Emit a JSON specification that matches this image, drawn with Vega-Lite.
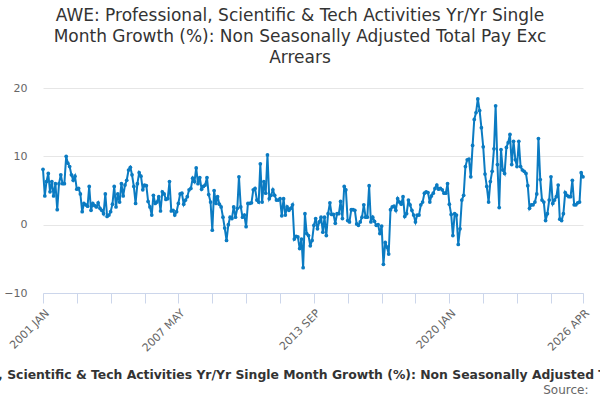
{
  "$schema": "https://vega.github.io/schema/vega-lite/v6.json",
  "autosize": {"type": "none"},
  "width": 540,
  "height": 205,
  "padding": {"left": 43, "top": 88, "right": 17, "bottom": 107},
  "title": {
    "text": ["AWE: Professional, Scientific & Tech Activities Yr/Yr Single", "Month Growth (%): Non Seasonally Adjusted Total Pay Exc", "Arrears"],
    "anchor": "middle",
    "frame": "group",
    "dx": -13,
    "offset": 15,
    "font": "DejaVu Sans",
    "fontSize": 17,
    "fontWeight": "normal",
    "color": "#333333",
    "lineHeight": 21
  },
  "data": {
    "values": [
      {"month": "2001-01", "value": 8.1}, {"month": "2001-02", "value": 4.2}, {"month": "2001-03", "value": 6.3}, {"month": "2001-04", "value": 7.5}, {"month": "2001-05", "value": 4.8}, {"month": "2001-06", "value": 6.3}, {"month": "2001-07", "value": 4.2}, {"month": "2001-08", "value": 6.0}, {"month": "2001-09", "value": 2.2}, {"month": "2001-10", "value": 6.0}, {"month": "2001-11", "value": 7.3}, {"month": "2001-12", "value": 6.0},
      {"month": "2002-01", "value": 6.0}, {"month": "2002-02", "value": 10.0}, {"month": "2002-03", "value": 9.0}, {"month": "2002-04", "value": 8.5}, {"month": "2002-05", "value": 7.3}, {"month": "2002-06", "value": 6.5}, {"month": "2002-07", "value": 7.1}, {"month": "2002-08", "value": 5.2}, {"month": "2002-09", "value": 5.3}, {"month": "2002-10", "value": 4.5}, {"month": "2002-11", "value": 1.9}, {"month": "2002-12", "value": 3.1},
      {"month": "2003-01", "value": 2.9}, {"month": "2003-02", "value": 2.7}, {"month": "2003-03", "value": 5.6}, {"month": "2003-04", "value": 2.1}, {"month": "2003-05", "value": 3.1}, {"month": "2003-06", "value": 2.8}, {"month": "2003-07", "value": 2.6}, {"month": "2003-08", "value": 3.2}, {"month": "2003-09", "value": 2.4}, {"month": "2003-10", "value": 2.1}, {"month": "2003-11", "value": 1.6}, {"month": "2003-12", "value": 4.5},
      {"month": "2004-01", "value": 1.2}, {"month": "2004-02", "value": 1.4}, {"month": "2004-03", "value": 1.9}, {"month": "2004-04", "value": 3.0}, {"month": "2004-05", "value": 5.6}, {"month": "2004-06", "value": 2.6}, {"month": "2004-07", "value": 4.5}, {"month": "2004-08", "value": 3.3}, {"month": "2004-09", "value": 6.0}, {"month": "2004-10", "value": 4.2}, {"month": "2004-11", "value": 5.8}, {"month": "2004-12", "value": 6.5},
      {"month": "2005-01", "value": 8.0}, {"month": "2005-02", "value": 8.4}, {"month": "2005-03", "value": 7.3}, {"month": "2005-04", "value": 5.6}, {"month": "2005-05", "value": 3.1}, {"month": "2005-06", "value": 6.0}, {"month": "2005-07", "value": 7.6}, {"month": "2005-08", "value": 7.1}, {"month": "2005-09", "value": 5.1}, {"month": "2005-10", "value": 5.8}, {"month": "2005-11", "value": 5.7}, {"month": "2005-12", "value": 3.4},
      {"month": "2006-01", "value": 2.6}, {"month": "2006-02", "value": 1.4}, {"month": "2006-03", "value": 4.3}, {"month": "2006-04", "value": 3.1}, {"month": "2006-05", "value": 3.3}, {"month": "2006-06", "value": 4.1}, {"month": "2006-07", "value": 2.0}, {"month": "2006-08", "value": 4.8}, {"month": "2006-09", "value": 4.5}, {"month": "2006-10", "value": 3.7}, {"month": "2006-11", "value": 3.8}, {"month": "2006-12", "value": 6.3},
      {"month": "2007-01", "value": 2.0}, {"month": "2007-02", "value": 2.1}, {"month": "2007-03", "value": 1.4}, {"month": "2007-04", "value": 1.9}, {"month": "2007-05", "value": 3.1}, {"month": "2007-06", "value": 4.5}, {"month": "2007-07", "value": 4.6}, {"month": "2007-08", "value": 3.0}, {"month": "2007-09", "value": 3.6}, {"month": "2007-10", "value": 4.1}, {"month": "2007-11", "value": 5.1}, {"month": "2007-12", "value": 5.3},
      {"month": "2008-01", "value": 6.8}, {"month": "2008-02", "value": 6.3}, {"month": "2008-03", "value": 8.3}, {"month": "2008-04", "value": 6.0}, {"month": "2008-05", "value": 6.9}, {"month": "2008-06", "value": 5.2}, {"month": "2008-07", "value": 5.6}, {"month": "2008-08", "value": 5.8}, {"month": "2008-09", "value": 6.9}, {"month": "2008-10", "value": 4.4}, {"month": "2008-11", "value": 3.3}, {"month": "2008-12", "value": -0.8},
      {"month": "2009-01", "value": 5.0}, {"month": "2009-02", "value": 3.1}, {"month": "2009-03", "value": 4.1}, {"month": "2009-04", "value": 3.0}, {"month": "2009-05", "value": 2.6}, {"month": "2009-06", "value": 1.1}, {"month": "2009-07", "value": -0.5}, {"month": "2009-08", "value": -2.3}, {"month": "2009-09", "value": 0.0}, {"month": "2009-10", "value": 1.1}, {"month": "2009-11", "value": 0.9}, {"month": "2009-12", "value": 2.6},
      {"month": "2010-01", "value": 1.1}, {"month": "2010-02", "value": 2.4}, {"month": "2010-03", "value": 7.0}, {"month": "2010-04", "value": 2.6}, {"month": "2010-05", "value": 1.1}, {"month": "2010-06", "value": 1.4}, {"month": "2010-07", "value": -0.3}, {"month": "2010-08", "value": 3.1}, {"month": "2010-09", "value": 3.1}, {"month": "2010-10", "value": 3.2}, {"month": "2010-11", "value": 5.1}, {"month": "2010-12", "value": 5.3},
      {"month": "2011-01", "value": 3.6}, {"month": "2011-02", "value": 3.3}, {"month": "2011-03", "value": 8.9}, {"month": "2011-04", "value": 3.3}, {"month": "2011-05", "value": 6.3}, {"month": "2011-06", "value": 4.6}, {"month": "2011-07", "value": 10.2}, {"month": "2011-08", "value": 3.8}, {"month": "2011-09", "value": 4.3}, {"month": "2011-10", "value": 5.1}, {"month": "2011-11", "value": 4.3}, {"month": "2011-12", "value": 3.6},
      {"month": "2012-01", "value": 3.6}, {"month": "2012-02", "value": 3.8}, {"month": "2012-03", "value": 1.3}, {"month": "2012-04", "value": 3.8}, {"month": "2012-05", "value": 1.4}, {"month": "2012-06", "value": 2.6}, {"month": "2012-07", "value": 2.1}, {"month": "2012-08", "value": 2.4}, {"month": "2012-09", "value": 2.9}, {"month": "2012-10", "value": -2.1}, {"month": "2012-11", "value": -1.7}, {"month": "2012-12", "value": -1.8},
      {"month": "2013-01", "value": -3.5}, {"month": "2013-02", "value": -2.1}, {"month": "2013-03", "value": -6.3}, {"month": "2013-04", "value": 1.6}, {"month": "2013-05", "value": -1.3}, {"month": "2013-06", "value": -1.6}, {"month": "2013-07", "value": -3.1}, {"month": "2013-08", "value": -2.3}, {"month": "2013-09", "value": -0.1}, {"month": "2013-10", "value": 0.9}, {"month": "2013-11", "value": -0.6}, {"month": "2013-12", "value": 0.4},
      {"month": "2014-01", "value": 1.1}, {"month": "2014-02", "value": -1.1}, {"month": "2014-03", "value": 1.1}, {"month": "2014-04", "value": -1.6}, {"month": "2014-05", "value": 1.6}, {"month": "2014-06", "value": 3.2}, {"month": "2014-07", "value": 1.5}, {"month": "2014-08", "value": 1.5}, {"month": "2014-09", "value": 0.2}, {"month": "2014-10", "value": 1.6}, {"month": "2014-11", "value": 1.6}, {"month": "2014-12", "value": 3.4},
      {"month": "2015-01", "value": 0.9}, {"month": "2015-02", "value": 5.6}, {"month": "2015-03", "value": 5.1}, {"month": "2015-04", "value": 0.6}, {"month": "2015-05", "value": 0.4}, {"month": "2015-06", "value": 2.2}, {"month": "2015-07", "value": 2.2}, {"month": "2015-08", "value": 2.1}, {"month": "2015-09", "value": 0.1}, {"month": "2015-10", "value": -0.1}, {"month": "2015-11", "value": 0.4}, {"month": "2015-12", "value": 1.1},
      {"month": "2016-01", "value": 2.9}, {"month": "2016-02", "value": 1.1}, {"month": "2016-03", "value": 1.1}, {"month": "2016-04", "value": 5.7}, {"month": "2016-05", "value": 0.4}, {"month": "2016-06", "value": 1.1}, {"month": "2016-07", "value": 0.5}, {"month": "2016-08", "value": -0.1}, {"month": "2016-09", "value": 0.0}, {"month": "2016-10", "value": -1.3}, {"month": "2016-11", "value": -0.2}, {"month": "2016-12", "value": -5.8},
      {"month": "2017-01", "value": -2.6}, {"month": "2017-02", "value": -3.3}, {"month": "2017-03", "value": -4.3}, {"month": "2017-04", "value": 2.2}, {"month": "2017-05", "value": 2.6}, {"month": "2017-06", "value": 2.7}, {"month": "2017-07", "value": 2.1}, {"month": "2017-08", "value": 3.8}, {"month": "2017-09", "value": 3.3}, {"month": "2017-10", "value": 3.0}, {"month": "2017-11", "value": 4.1}, {"month": "2017-12", "value": 1.2},
      {"month": "2018-01", "value": 1.6}, {"month": "2018-02", "value": 3.6}, {"month": "2018-03", "value": 2.9}, {"month": "2018-04", "value": 2.1}, {"month": "2018-05", "value": 1.4}, {"month": "2018-06", "value": 0.4}, {"month": "2018-07", "value": 1.4}, {"month": "2018-08", "value": 1.4}, {"month": "2018-09", "value": 2.9}, {"month": "2018-10", "value": 3.3}, {"month": "2018-11", "value": 4.6}, {"month": "2018-12", "value": 4.8},
      {"month": "2019-01", "value": 4.7}, {"month": "2019-02", "value": 3.3}, {"month": "2019-03", "value": 4.2}, {"month": "2019-04", "value": 4.6}, {"month": "2019-05", "value": 5.3}, {"month": "2019-06", "value": 5.8}, {"month": "2019-07", "value": 5.2}, {"month": "2019-08", "value": 5.3}, {"month": "2019-09", "value": 5.1}, {"month": "2019-10", "value": 4.6}, {"month": "2019-11", "value": 4.6}, {"month": "2019-12", "value": 6.0},
      {"month": "2020-01", "value": 3.0}, {"month": "2020-02", "value": 1.5}, {"month": "2020-03", "value": -1.6}, {"month": "2020-04", "value": 1.6}, {"month": "2020-05", "value": 1.4}, {"month": "2020-06", "value": -2.9}, {"month": "2020-07", "value": -0.6}, {"month": "2020-08", "value": 3.6}, {"month": "2020-09", "value": 4.3}, {"month": "2020-10", "value": 8.5}, {"month": "2020-11", "value": 9.5}, {"month": "2020-12", "value": 9.6},
      {"month": "2021-01", "value": 7.0}, {"month": "2021-02", "value": 11.6}, {"month": "2021-03", "value": 15.4}, {"month": "2021-04", "value": 16.4}, {"month": "2021-05", "value": 18.4}, {"month": "2021-06", "value": 16.7}, {"month": "2021-07", "value": 14.2}, {"month": "2021-08", "value": 11.4}, {"month": "2021-09", "value": 7.4}, {"month": "2021-10", "value": 5.6}, {"month": "2021-11", "value": 3.3}, {"month": "2021-12", "value": 6.3},
      {"month": "2022-01", "value": 7.8}, {"month": "2022-02", "value": 11.1}, {"month": "2022-03", "value": 17.4}, {"month": "2022-04", "value": 8.8}, {"month": "2022-05", "value": 2.5}, {"month": "2022-06", "value": 11.0}, {"month": "2022-07", "value": 8.0}, {"month": "2022-08", "value": 7.5}, {"month": "2022-09", "value": 11.3}, {"month": "2022-10", "value": 12.0}, {"month": "2022-11", "value": 13.2}, {"month": "2022-12", "value": 8.8},
      {"month": "2023-01", "value": 12.2}, {"month": "2023-02", "value": 9.5}, {"month": "2023-03", "value": 8.5}, {"month": "2023-04", "value": 12.2}, {"month": "2023-05", "value": 8.5}, {"month": "2023-06", "value": 8.0}, {"month": "2023-07", "value": 7.8}, {"month": "2023-08", "value": 7.5}, {"month": "2023-09", "value": 5.7}, {"month": "2023-10", "value": 2.4}, {"month": "2023-11", "value": 2.9}, {"month": "2023-12", "value": 2.9},
      {"month": "2024-01", "value": 3.3}, {"month": "2024-02", "value": 4.5}, {"month": "2024-03", "value": 12.6}, {"month": "2024-04", "value": 6.6}, {"month": "2024-05", "value": 3.6}, {"month": "2024-06", "value": 3.3}, {"month": "2024-07", "value": 0.6}, {"month": "2024-08", "value": 1.6}, {"month": "2024-09", "value": 3.6}, {"month": "2024-10", "value": 7.0}, {"month": "2024-11", "value": 3.1}, {"month": "2024-12", "value": 3.6},
      {"month": "2025-01", "value": 4.1}, {"month": "2025-02", "value": 5.8}, {"month": "2025-03", "value": 0.8}, {"month": "2025-04", "value": 0.6}, {"month": "2025-05", "value": 1.6}, {"month": "2025-06", "value": 4.7}, {"month": "2025-07", "value": 4.3}, {"month": "2025-08", "value": 4.1}, {"month": "2025-09", "value": 4.1}, {"month": "2025-10", "value": 6.5}, {"month": "2025-11", "value": 2.9}, {"month": "2025-12", "value": 2.9},
      {"month": "2026-01", "value": 3.2}, {"month": "2026-02", "value": 3.3}, {"month": "2026-03", "value": 7.6}, {"month": "2026-04", "value": 7.0}
    ]
  },
  "mark": {
    "type": "line",
    "color": "#0b7bc2",
    "strokeWidth": 2,
    "point": {"filled": true, "size": 14, "color": "#0b7bc2"}
  },
  "encoding": {
    "x": {
      "field": "month",
      "type": "temporal",
      "scale": {
        "type": "utc",
        "domain": [{"year": 2001, "month": 1, "date": 1, "utc": true}, {"year": 2026, "month": 4, "date": 1, "utc": true}],
        "nice": false,
        "padding": 0
      },
      "axis": {
        "values": [
          {"year": 2001, "month": 1, "date": 1, "utc": true},
          {"year": 2002, "month": 8, "date": 1, "utc": true},
          {"year": 2004, "month": 3, "date": 1, "utc": true},
          {"year": 2005, "month": 10, "date": 1, "utc": true},
          {"year": 2007, "month": 5, "date": 1, "utc": true},
          {"year": 2008, "month": 12, "date": 1, "utc": true},
          {"year": 2010, "month": 7, "date": 1, "utc": true},
          {"year": 2012, "month": 2, "date": 1, "utc": true},
          {"year": 2013, "month": 9, "date": 1, "utc": true},
          {"year": 2015, "month": 4, "date": 1, "utc": true},
          {"year": 2016, "month": 11, "date": 1, "utc": true},
          {"year": 2018, "month": 6, "date": 1, "utc": true},
          {"year": 2020, "month": 1, "date": 1, "utc": true},
          {"year": 2021, "month": 8, "date": 1, "utc": true},
          {"year": 2023, "month": 3, "date": 1, "utc": true},
          {"year": 2024, "month": 10, "date": 1, "utc": true},
          {"year": 2026, "month": 4, "date": 1, "utc": true}
        ],
        "labelExpr": "(((utcyear(datum.value)-2001)*12+utcmonth(datum.value)) % 76 == 0 || ((utcyear(datum.value)-2001)*12+utcmonth(datum.value)) == 303) ? upper(utcFormat(datum.value, '%Y %b')) : ''",
        "labelAngle": -45,
        "labelFont": "DejaVu Sans",
        "labelFontSize": 11,
        "labelColor": "#666666",
        "labelOverlap": false,
        "labelPadding": 4,
        "grid": false,
        "domainColor": "#ccd6eb",
        "tickColor": "#ccd6eb",
        "tickSize": 10,
        "title": "AWE: Professional, Scientific & Tech Activities Yr/Yr Single Month Growth (%): Non Seasonally Adjusted Total Pay Exc Arrears",
        "titleFont": "DejaVu Sans",
        "titleFontSize": 12.4,
        "titleFontWeight": "bold",
        "titleColor": "#333333",
        "titleLimit": 3000,
        "titleBaseline": "alphabetic",
        "titleAlign": "center",
        "titleX": 265,
        "titleY": 85
      }
    },
    "y": {
      "field": "value",
      "type": "quantitative",
      "scale": {"domain": [-10, 20], "nice": false, "zero": false},
      "axis": {
        "values": [-10, 0, 10, 20],
        "domain": false,
        "ticks": false,
        "gridColor": "#e6e6e6",
        "labelFont": "DejaVu Sans",
        "labelFontSize": 11,
        "labelColor": "#666666",
        "labelPadding": 16,
        "title": "Source:",
        "titleAngle": 0,
        "titleAlign": "right",
        "titleBaseline": "alphabetic",
        "titleX": 545,
        "titleY": 305,
        "titleFont": "DejaVu Sans",
        "titleFontSize": 12,
        "titleFontWeight": "normal",
        "titleColor": "#666666"
      }
    }
  },
  "config": {"view": {"stroke": null}}
}
